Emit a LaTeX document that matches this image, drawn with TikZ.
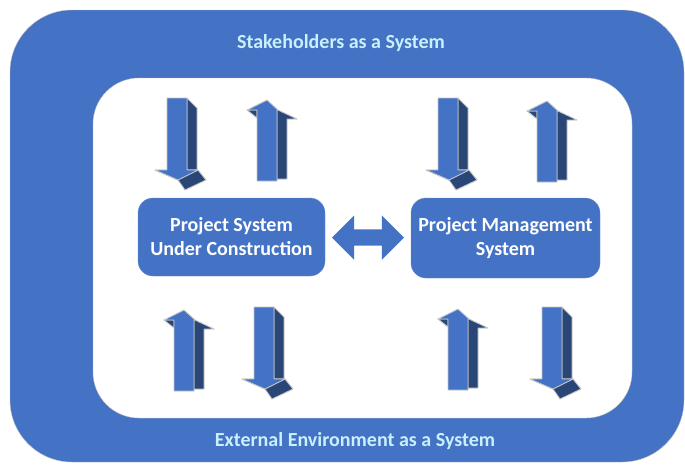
\documentclass[tikz,border=0pt]{standalone}
\usepackage{fontspec}
\setmainfont{Carlito}
\usepackage{tikz}
\usetikzlibrary{positioning,calc,shapes.arrows}
\definecolor{sysblue}{HTML}{4472C4}
\definecolor{sysdark}{HTML}{294676}
\definecolor{captxt}{HTML}{C8F0FF}
\tikzstyle{sysbox}=[fill=sysblue, draw=sysblue!80!white, rounded corners=15pt, text=white, align=center, font=\bfseries\fontsize{20}{24}\selectfont]
\tikzstyle{caption}=[text=captxt, font=\bfseries\fontsize{20}{22}\selectfont]
\tikzstyle{facelight}=[fill=sysblue, draw=gray!45, line width=0.9pt, line join=round]
\tikzstyle{facedark}=[fill=sysdark, draw=gray!45, line width=0.9pt, line join=round]
\tikzset{
  flowdown/.pic={
    \draw[facedark] (20,0) -- (30,10) -- (30,72) -- (20,72) -- cycle;
    \draw[facedark] (-12,72) -- (11,82) -- (18,92) -- (39,82) -- (31,72) -- cycle;
    \draw[facelight] (0,0) -- (20,0) -- (20,72) -- (31,72) -- (11,82) -- (-12,72) -- (0,72) -- cycle;
  },
  flowup/.pic={
    \draw[facedark] (20,-2) -- (30,-2) -- (30,-62) -- (40,-62) -- (21,-71) -- (20,-71) -- cycle;
    \draw[facedark] (-10,-71) -- (0,-71) -- (0,-63) -- cycle;
    \draw[facelight] (0,0) -- (20,0) -- (20,-71) -- (21,-71) -- (10,-81) -- (-10,-71) -- (0,-71) -- cycle;
  }
}

\begin{document}
\begin{tikzpicture}[x=1pt, y=-1pt]
\useasboundingbox (0,0) rectangle (685,464);
% stakeholders / environment ring
\draw[fill=sysblue, draw=gray!50, rounded corners=62pt] (10,10) rectangle (684,462);
\draw[fill=white, draw=gray!50, rounded corners=46pt] (93,78) rectangle (632,418);
\node[caption] (stake) at (341,43) {Stakeholders as a System};
\node[caption] (env) at (355,441) {External Environment as a System};

% the two systems
\node[sysbox, minimum width=187pt, minimum height=78pt] (ps) at (231.5,237) {Project System\\Under Construction};
\node[sysbox, minimum width=189pt, minimum height=80pt] (pm) at (505.5,238) {Project Management\\System};
\node[double arrow, fill=sysblue, inner sep=8pt, minimum width=44pt, minimum height=72pt,
  double arrow head extend=14pt] (link) at ($(ps.east)!0.5!(pm.west)$) {};

% flows in and out
\pic at (167,98) {flowdown};
\pic at (257,181) {flowup};
\pic at (438,98) {flowdown};
\pic at (537,182) {flowup};
\pic at (174,391) {flowup};
\pic at (254,307) {flowdown};
\pic at (448,390) {flowup};
\pic at (542,307) {flowdown};
\end{tikzpicture}
\end{document}
